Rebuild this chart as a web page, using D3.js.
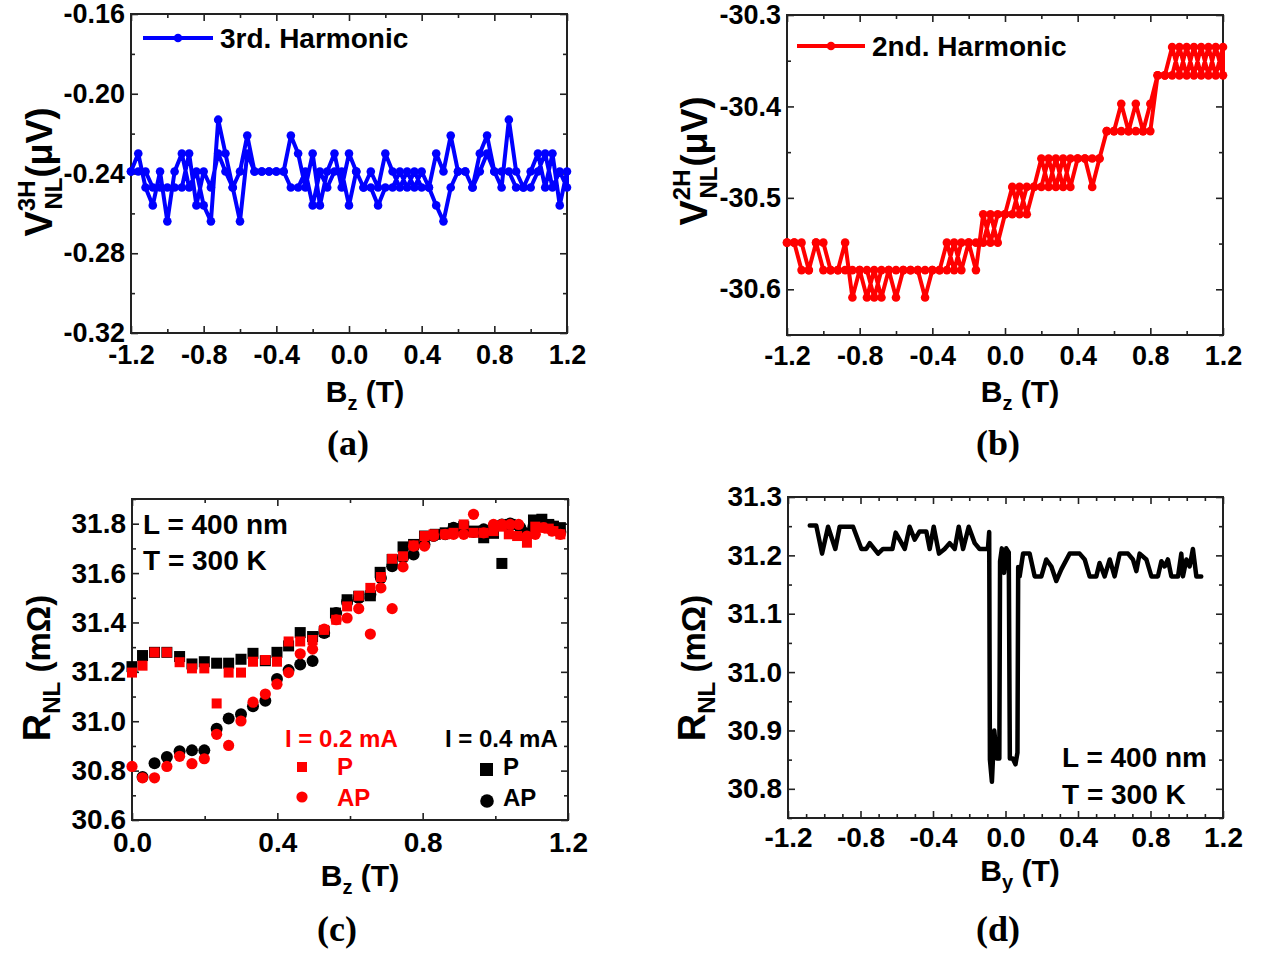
<!DOCTYPE html>
<html>
<meta charset="UTF-8">

<head>
  <script src="https://cdn.jsdelivr.net/npm/d3@7/dist/d3.min.js"></script>
  <style>
    body { margin: 0; background: #fff; }
    svg text { font-family: "Liberation Sans", Arial, sans-serif; font-weight: bold; }
  </style>
</head>

<body>
  <svg id="fig" width="1261" height="954"></svg>

  <script type="text/javascript">
    // field steps of the harmonic sweeps, panels (a) and (b)
    const bzGrid = [-1.2, -1.16, -1.12, -1.08, -1.04, -1.0, -0.96, -0.92, -0.88, -0.84,
      -0.8, -0.76, -0.72, -0.68, -0.64, -0.6, -0.56, -0.52, -0.48, -0.44,
      -0.4, -0.36, -0.32, -0.28, -0.24, -0.2, -0.16, -0.12, -0.08, -0.04,
      0, 0.04, 0.08, 0.12, 0.16, 0.2, 0.24, 0.28, 0.32, 0.36,
      0.4, 0.44, 0.48, 0.52, 0.56, 0.6, 0.64, 0.68, 0.72, 0.76,
      0.8, 0.84, 0.88, 0.92, 0.96, 1.0, 1.04, 1.08, 1.12, 1.16, 1.2]

    // (a) 3rd harmonic, uV
    const v3hUp = [-0.239, -0.230, -0.247, -0.256, -0.239, -0.264, -0.239, -0.230, -0.247, -0.239,
      -0.256, -0.264, -0.213, -0.230, -0.247, -0.239, -0.221, -0.239, -0.239, -0.239,
      -0.239, -0.239, -0.221, -0.230, -0.247, -0.230, -0.256, -0.239, -0.230, -0.247,
      -0.230, -0.239, -0.247, -0.239, -0.247, -0.230, -0.239, -0.247, -0.239, -0.247,
      -0.239, -0.247, -0.230, -0.239, -0.221, -0.239, -0.239, -0.247, -0.230, -0.221,
      -0.239, -0.247, -0.213, -0.239, -0.247, -0.239, -0.230, -0.247, -0.230, -0.256,
      -0.239]
    const v3hDown = [-0.239, -0.239, -0.239, -0.247, -0.247, -0.247, -0.247, -0.247, -0.230, -0.256,
      -0.239, -0.247, -0.230, -0.239, -0.247, -0.264, -0.230, -0.239, -0.239, -0.239,
      -0.239, -0.239, -0.247, -0.247, -0.239, -0.256, -0.239, -0.247, -0.239, -0.239,
      -0.256, -0.239, -0.247, -0.247, -0.256, -0.247, -0.247, -0.239, -0.247, -0.239,
      -0.247, -0.247, -0.256, -0.264, -0.247, -0.239, -0.239, -0.247, -0.239, -0.230,
      -0.239, -0.239, -0.239, -0.247, -0.247, -0.247, -0.239, -0.230, -0.247, -0.239,
      -0.247]

    // (b) 2nd harmonic, uV
    const v2hUp = [-30.549, -30.549, -30.579, -30.579, -30.549, -30.579, -30.579, -30.579, -30.549, -30.609,
      -30.579, -30.579, -30.609, -30.579, -30.579, -30.609, -30.579, -30.579, -30.579, -30.609,
      -30.579, -30.579, -30.579, -30.549, -30.579, -30.549, -30.579, -30.518, -30.549, -30.518,
      -30.518, -30.488, -30.518, -30.488, -30.488, -30.457, -30.488, -30.457, -30.488, -30.457,
      -30.457, -30.457, -30.488, -30.457, -30.427, -30.427, -30.397, -30.427, -30.427, -30.427,
      -30.397, -30.366, -30.366, -30.366, -30.335, -30.366, -30.335, -30.366, -30.335, -30.366,
      -30.335]
    const v2hDown = [-30.549, -30.549, -30.549, -30.579, -30.549, -30.549, -30.579, -30.579, -30.579, -30.579,
      -30.579, -30.609, -30.579, -30.609, -30.579, -30.579, -30.579, -30.579, -30.579, -30.579,
      -30.579, -30.579, -30.549, -30.579, -30.549, -30.549, -30.549, -30.549, -30.518, -30.549,
      -30.518, -30.518, -30.488, -30.518, -30.488, -30.488, -30.457, -30.488, -30.457, -30.488,
      -30.457, -30.457, -30.457, -30.457, -30.427, -30.427, -30.427, -30.427, -30.397, -30.427,
      -30.427, -30.366, -30.366, -30.335, -30.366, -30.335, -30.366, -30.335, -30.366, -30.335,
      -30.366]

    // (c) R_NL vs Bz, [B (T), R (mOhm)]
    const pP04 = [[0, 31.221], [0.029, 31.266], [0.062, 31.279], [0.096, 31.279], [0.131, 31.262], [0.165, 31.232],
      [0.199, 31.241], [0.233, 31.235], [0.266, 31.235], [0.300, 31.251], [0.333, 31.275], [0.367, 31.245],
      [0.399, 31.279], [0.431, 31.305], [0.463, 31.359], [0.497, 31.343], [0.529, 31.363], [0.560, 31.438],
      [0.592, 31.492], [0.624, 31.506], [0.656, 31.508], [0.683, 31.603], [0.716, 31.655], [0.746, 31.706],
      [0.775, 31.716], [0.805, 31.750], [0.835, 31.757], [0.862, 31.763], [0.885, 31.780], [0.913, 31.788],
      [0.940, 31.770], [0.968, 31.743], [0.995, 31.761], [1.018, 31.639], [1.041, 31.797], [1.069, 31.763],
      [1.087, 31.763], [1.105, 31.815], [1.128, 31.818], [1.147, 31.797], [1.160, 31.790], [1.179, 31.784]]
    const pAP04 = [[0.029, 30.774], [0.062, 30.830], [0.096, 30.855], [0.131, 30.878], [0.165, 30.882], [0.199, 30.882],
      [0.233, 30.970], [0.266, 31.011], [0.300, 31.028], [0.333, 31.061], [0.367, 31.083], [0.399, 31.171],
      [0.431, 31.207], [0.463, 31.230], [0.497, 31.244], [0.529, 31.357], [0.562, 31.438], [0.592, 31.485],
      [0.624, 31.499], [0.656, 31.513], [0.685, 31.580], [0.716, 31.628], [0.746, 31.662], [0.775, 31.675],
      [0.805, 31.716], [0.830, 31.750], [0.862, 31.757], [0.885, 31.784], [0.913, 31.763], [0.940, 31.766],
      [0.968, 31.777], [0.995, 31.790], [1.018, 31.797], [1.041, 31.801], [1.069, 31.784], [1.105, 31.790],
      [1.128, 31.804], [1.156, 31.790], [1.179, 31.766]]
    const pP02 = [[0, 31.197], [0.029, 31.225], [0.062, 31.279], [0.096, 31.279], [0.131, 31.239], [0.165, 31.214],
      [0.199, 31.214], [0.233, 31.072], [0.266, 31.197], [0.300, 31.197], [0.333, 31.241], [0.367, 31.248],
      [0.399, 31.241], [0.431, 31.323], [0.463, 31.323], [0.497, 31.329], [0.529, 31.370], [0.562, 31.411],
      [0.592, 31.465], [0.624, 31.508], [0.656, 31.540], [0.685, 31.584], [0.716, 31.658], [0.746, 31.668],
      [0.775, 31.712], [0.805, 31.750], [0.830, 31.757], [0.862, 31.757], [0.885, 31.763], [0.913, 31.797],
      [0.940, 31.763], [0.968, 31.763], [0.995, 31.770], [1.018, 31.788], [1.037, 31.757], [1.060, 31.750],
      [1.087, 31.723], [1.110, 31.788], [1.128, 31.784], [1.147, 31.780], [1.160, 31.770], [1.179, 31.757]]
    const pAP02 = [[0, 30.817], [0.029, 30.771], [0.062, 30.771], [0.096, 30.817], [0.131, 30.858], [0.165, 30.828],
      [0.199, 30.848], [0.233, 30.947], [0.266, 30.902], [0.300, 31.001], [0.333, 31.077], [0.367, 31.110],
      [0.399, 31.150], [0.431, 31.197], [0.463, 31.273], [0.497, 31.292], [0.529, 31.373], [0.562, 31.411],
      [0.592, 31.418], [0.624, 31.456], [0.656, 31.353], [0.685, 31.540], [0.716, 31.456], [0.746, 31.625],
      [0.775, 31.709], [0.805, 31.709], [0.830, 31.750], [0.862, 31.757], [0.885, 31.757], [0.913, 31.757],
      [0.940, 31.838], [0.968, 31.763], [0.995, 31.797], [1.018, 31.797], [1.041, 31.797], [1.064, 31.797],
      [1.087, 31.750], [1.110, 31.757], [1.133, 31.784], [1.156, 31.770], [1.179, 31.757]]

    // (d) R_NL vs By, [B (T), R (mOhm)]
    const rBy = [[-1.080, 31.251], [-1.044, 31.251], [-1.012, 31.203], [-0.979, 31.249], [-0.939, 31.211],
      [-0.915, 31.249], [-0.841, 31.249], [-0.795, 31.211], [-0.768, 31.211], [-0.749, 31.221], [-0.703, 31.203],
      [-0.676, 31.211], [-0.624, 31.211], [-0.606, 31.239], [-0.556, 31.211], [-0.529, 31.249], [-0.501, 31.227],
      [-0.474, 31.241], [-0.437, 31.241], [-0.418, 31.211], [-0.396, 31.249], [-0.367, 31.203], [-0.336, 31.211],
      [-0.308, 31.221], [-0.280, 31.211], [-0.258, 31.249], [-0.234, 31.211], [-0.203, 31.249], [-0.170, 31.221],
      [-0.143, 31.211], [-0.097, 31.211], [-0.090, 31.240], [-0.086, 30.850], [-0.075, 30.812], [-0.062, 30.900],
      [-0.048, 30.852], [-0.034, 30.852], [-0.030, 31.190], [-0.020, 31.212], [-0.008, 31.170], [0.004, 31.212],
      [0.018, 31.205], [0.024, 30.852], [0.040, 30.852], [0.055, 30.842], [0.066, 30.862], [0.070, 31.180],
      [0.078, 31.164], [0.097, 31.203], [0.133, 31.203], [0.161, 31.164], [0.198, 31.164], [0.225, 31.193],
      [0.253, 31.181], [0.280, 31.156], [0.308, 31.176], [0.354, 31.203], [0.409, 31.203], [0.437, 31.193],
      [0.464, 31.164], [0.501, 31.164], [0.519, 31.187], [0.547, 31.164], [0.575, 31.193], [0.602, 31.164],
      [0.630, 31.203], [0.676, 31.203], [0.703, 31.193], [0.722, 31.173], [0.740, 31.203], [0.777, 31.193],
      [0.805, 31.164], [0.841, 31.164], [0.860, 31.190], [0.878, 31.181], [0.896, 31.193], [0.915, 31.164],
      [0.952, 31.164], [0.970, 31.203], [0.979, 31.164], [0.998, 31.193], [1.016, 31.181], [1.034, 31.211],
      [1.053, 31.164], [1.080, 31.164]]

    // tick values
    const bTicks = [-1.2, -0.8, -0.4, 0, 0.4, 0.8, 1.2]
    const bMinor = [-1.0, -0.6, -0.2, 0.2, 0.6, 1.0]
    const bMinorD = [-1.1, -1.0, -0.9, -0.7, -0.6, -0.5, -0.3, -0.2, -0.1, 0.1, 0.2, 0.3, 0.5, 0.6, 0.7, 0.9, 1.0, 1.1]
    const aTicks = [-0.32, -0.28, -0.24, -0.20, -0.16]
    const aMinor = [-0.30, -0.26, -0.22, -0.18]
    const bYTicks = [-30.6, -30.5, -30.4, -30.3]
    const bYMinor = [-30.65, -30.55, -30.45, -30.35]
    const cXTicks = [0, 0.4, 0.8, 1.2]
    const cXMinor = [0.2, 0.6, 1.0]
    const cYTicks = [30.6, 30.8, 31.0, 31.2, 31.4, 31.6, 31.8]
    const cYMinor = [30.7, 30.9, 31.1, 31.3, 31.5, 31.7, 31.9]
    const dYTicks = [30.8, 30.9, 31.0, 31.1, 31.2, 31.3]
    const dYMinor = [30.75, 30.85, 30.95, 31.05, 31.15, 31.25]

    const svg = d3.select("#fig")
    svg.append("rect").attr("width", 1261).attr("height", 954).attr("fill", "white")

    function panel(p) {
      const g = svg.append("g").attr("transform", `translate(${p.left},${p.top})`)
      const x = d3.scaleLinear().domain(p.xd).range([0, p.w])
      const y = d3.scaleLinear().domain(p.yd).range([p.h, 0])

      const axes = [
        [d3.axisBottom(x).tickValues(p.xt).tickSize(-7).tickPadding(p.xp).tickFormat(d => d.toFixed(1)), p.h],
        [d3.axisBottom(x).tickValues(p.xm).tickSize(-4).tickFormat(""), p.h],
        [d3.axisTop(x).tickValues(p.xt).tickSize(-7).tickFormat(""), 0],
        [d3.axisTop(x).tickValues(p.xm).tickSize(-4).tickFormat(""), 0]
      ]
      axes.forEach(([a, ty]) => {
        const ag = g.append("g").attr("transform", `translate(0,${ty})`).call(a)
        ag.select(".domain").remove()
      })
      const yaxes = [
        [d3.axisLeft(y).tickValues(p.yt).tickSize(-7).tickPadding(6).tickFormat(p.yf), 0],
        [d3.axisLeft(y).tickValues(p.ym).tickSize(-4).tickFormat(""), 0],
        [d3.axisRight(y).tickValues(p.yt).tickSize(-7).tickFormat(""), p.w],
        [d3.axisRight(y).tickValues(p.ym).tickSize(-4).tickFormat(""), p.w]
      ]
      yaxes.forEach(([a, tx]) => {
        const ag = g.append("g").attr("transform", `translate(${tx},0)`).call(a)
        ag.select(".domain").remove()
      })
      g.selectAll(".tick line").attr("stroke", "#222").attr("stroke-width", 1.6)
      g.selectAll(".tick text").attr("fill", "black").style("font-size", p.fs + "px")
        .style("font-family", '"Liberation Sans", Arial, sans-serif').style("font-weight", "bold")

      g.append("rect").attr("width", p.w).attr("height", p.h)
        .attr("fill", "none").attr("stroke", "#222").attr("stroke-width", 2)
      return { g, x, y }
    }

    function sweepLine(pa, xs, upVals, downVals, color) {
      const pts = xs.map((b, i) => [b, upVals[i]])
        .concat(xs.map((b, i) => [b, downVals[i]]).reverse())
      const line = d3.line().x(d => pa.x(d[0])).y(d => pa.y(d[1]))
      pa.g.append("path").datum(pts).attr("d", line)
        .attr("fill", "none").attr("stroke", color).attr("stroke-width", 4).attr("stroke-linejoin", "round")
      pa.g.selectAll("circle.pt").data(pts).enter().append("circle").attr("class", "pt")
        .attr("cx", d => pa.x(d[0])).attr("cy", d => pa.y(d[1])).attr("r", 4.3).attr("fill", color)
    }

    function vTitle(tx, ty, main, sup, sub, unit) {
      const t = svg.append("text").attr("transform", `translate(${tx},${ty}) rotate(-90)`)
        .attr("text-anchor", "middle").attr("fill", "black")
      t.append("tspan").style("font-size", "38px").text(main)
      if (sup) {
        t.append("tspan").style("font-size", "24px").attr("dy", -17).text(sup)
        t.append("tspan").style("font-size", "24px").attr("dx", -29).attr("dy", 27).text(sub)
        t.append("tspan").style("font-size", "36px").attr("dy", -10).text(unit)
      } else {
        t.append("tspan").style("font-size", "24px").attr("dy", 10).text(sub)
        t.append("tspan").style("font-size", "33px").attr("dy", -10).text(unit)
      }
    }

    function bTitle(cx, by, sub) {
      const t = svg.append("text").attr("x", cx).attr("y", by).attr("text-anchor", "middle").attr("fill", "black")
      t.append("tspan").style("font-size", "30px").text("B")
      t.append("tspan").style("font-size", "20px").attr("dy", 8).text(sub)
      t.append("tspan").style("font-size", "30px").attr("dy", -8).text(" (T)")
    }

    function letter(cx, by, s) {
      svg.append("text").attr("x", cx).attr("y", by).attr("text-anchor", "middle")
        .style("font-family", '"Liberation Serif", "Times New Roman", serif').style("font-size", "36px")
        .text(s)
    }

    // (a)
    const pa = panel({ left: 131, top: 14, w: 436, h: 319, xd: [-1.2, 1.2], yd: [-0.32, -0.16],
      xt: bTicks, xm: bMinor, yt: aTicks, ym: aMinor, yf: d => d.toFixed(2), fs: 27, xp: 12 })
    sweepLine(pa, bzGrid, v3hUp, v3hDown, "#0000ff")
    pa.g.append("line").attr("x1", 12).attr("x2", 82).attr("y1", 24).attr("y2", 24)
      .attr("stroke", "#0000ff").attr("stroke-width", 4)
    pa.g.append("circle").attr("cx", 47).attr("cy", 24).attr("r", 4.3).attr("fill", "#0000ff")
    pa.g.append("text").attr("x", 89).attr("y", 34).style("font-size", "28px").text("3rd. Harmonic")
    vTitle(52, 172, "V", "3H", "NL", "(\u03bcV)")
    bTitle(365, 402, "z")
    letter(348, 455, "(a)")

    // (b)
    const pb = panel({ left: 787, top: 15, w: 436, h: 320, xd: [-1.2, 1.2], yd: [-30.65, -30.3],
      xt: bTicks, xm: bMinor, yt: bYTicks, ym: bYMinor, yf: d => d.toFixed(1), fs: 27, xp: 11 })
    sweepLine(pb, bzGrid, v2hUp, v2hDown, "#ff0000")
    pb.g.append("line").attr("x1", 10).attr("x2", 78).attr("y1", 31).attr("y2", 31)
      .attr("stroke", "#ff0000").attr("stroke-width", 4)
    pb.g.append("circle").attr("cx", 44).attr("cy", 31).attr("r", 4.3).attr("fill", "#ff0000")
    pb.g.append("text").attr("x", 85).attr("y", 41).style("font-size", "28px").text("2nd. Harmonic")
    vTitle(707, 161, "V", "2H", "NL", "(\u03bcV)")
    bTitle(1020, 402, "z")
    letter(998, 455, "(b)")

    // (c)
    const pc = panel({ left: 132, top: 499, w: 436, h: 321, xd: [0, 1.2], yd: [30.6, 31.9],
      xt: cXTicks, xm: cXMinor, yt: cYTicks, ym: cYMinor, yf: d => d.toFixed(1), fs: 28, xp: 12 })
    const series = [
      [pP04, "sq", "black", 11], [pAP04, "ci", "black", 6],
      [pP02, "sq", "#ff0000", 10], [pAP02, "ci", "#ff0000", 5.6]
    ]
    series.forEach(([data, shape, color, s]) => {
      if (shape === "sq") {
        pc.g.append("g").selectAll("rect").data(data).enter().append("rect")
          .attr("x", d => pc.x(d[0]) - s / 2).attr("y", d => pc.y(d[1]) - s / 2)
          .attr("width", s).attr("height", s).attr("fill", color)
      } else {
        pc.g.append("g").selectAll("circle").data(data).enter().append("circle")
          .attr("cx", d => pc.x(d[0])).attr("cy", d => pc.y(d[1])).attr("r", s).attr("fill", color)
      }
    })
    const cText = (x, y, s, color, size) => pc.g.append("text").attr("x", x - 132).attr("y", y - 499)
      .attr("fill", color).style("font-size", size + "px").text(s)
    cText(143, 534, "L = 400 nm", "black", 28)
    cText(143, 570, "T = 300 K", "black", 28)
    cText(285, 747, "I = 0.2 mA", "#ff0000", 24)
    cText(337, 775, "P", "#ff0000", 24)
    cText(337, 806, "AP", "#ff0000", 24)
    cText(445, 747, "I = 0.4 mA", "black", 24)
    cText(503, 775, "P", "black", 24)
    cText(503, 806, "AP", "black", 24)
    pc.g.append("rect").attr("x", 297 - 132).attr("y", 762 - 499).attr("width", 10).attr("height", 10).attr("fill", "#ff0000")
    pc.g.append("circle").attr("cx", 302 - 132).attr("cy", 797 - 499).attr("r", 5.6).attr("fill", "#ff0000")
    pc.g.append("rect").attr("x", 480 - 132).attr("y", 763 - 499).attr("width", 13).attr("height", 13).attr("fill", "black")
    pc.g.append("circle").attr("cx", 487 - 132).attr("cy", 801 - 499).attr("r", 6.8).attr("fill", "black")
    vTitle(50, 668, "R", null, "NL", " (m\u03a9)")
    bTitle(360, 886, "z")
    letter(337, 941, "(c)")

    // (d)
    const pd = panel({ left: 788, top: 497, w: 435, h: 321, xd: [-1.2, 1.2], yd: [30.75, 31.3],
      xt: bTicks, xm: bMinorD, yt: dYTicks, ym: dYMinor, yf: d => d.toFixed(1), fs: 28, xp: 9 })
    pd.g.append("path").datum(rBy)
      .attr("d", d3.line().x(d => pd.x(d[0])).y(d => pd.y(d[1])))
      .attr("fill", "none").attr("stroke", "black").attr("stroke-width", 4.5)
      .attr("stroke-linejoin", "round").attr("stroke-linecap", "round")
    pd.g.append("text").attr("x", 1062 - 788).attr("y", 767 - 497).style("font-size", "28px").text("L = 400 nm")
    pd.g.append("text").attr("x", 1062 - 788).attr("y", 804 - 497).style("font-size", "28px").text("T = 300 K")
    vTitle(705, 668, "R", null, "NL", " (m\u03a9)")
    bTitle(1020, 881, "y")
    letter(998, 941, "(d)")
  </script>
</body>

</html>
